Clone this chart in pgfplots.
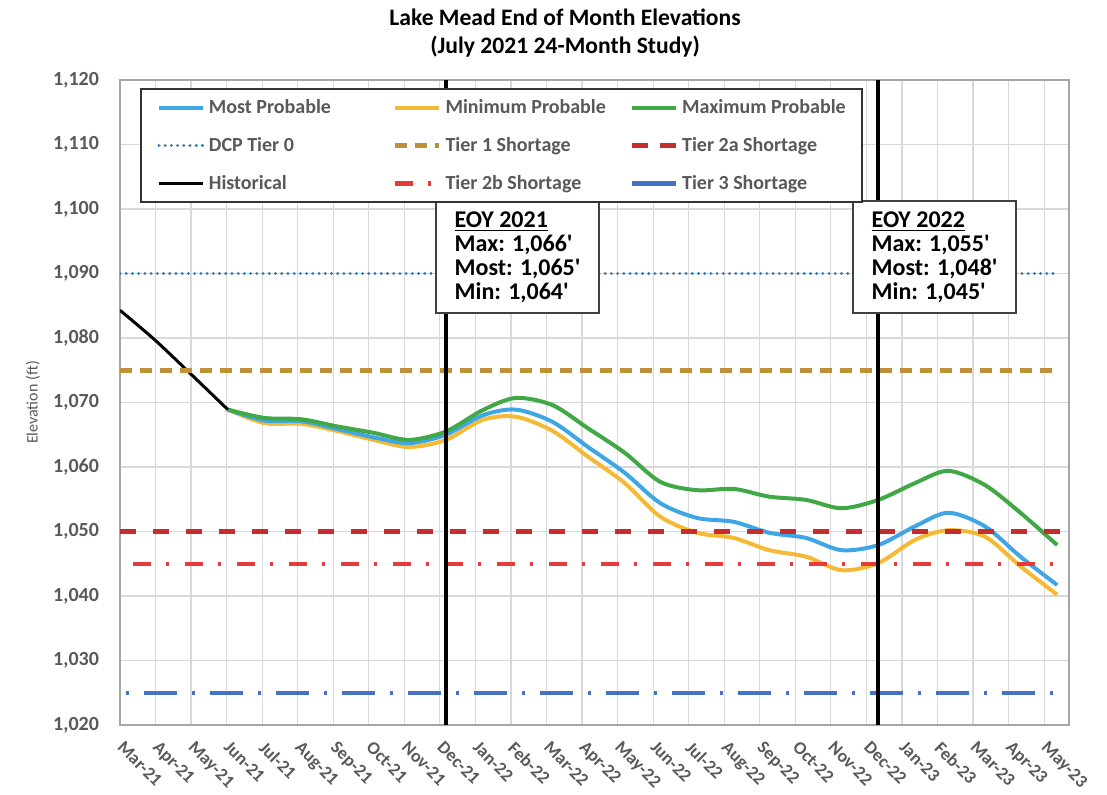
\documentclass[border=0pt]{standalone}
\usepackage{fontspec}
\setmainfont{Carlito}[Ligatures=TeXOff]
\usepackage{pgfplots}
\pgfplotsset{compat=1.18}

\definecolor{mostblue}{HTML}{3FA6E4}
\definecolor{minyellow}{HTML}{F5B935}
\definecolor{maxgreen}{HTML}{40A845}
\definecolor{tierzero}{HTML}{2E75B6}
\definecolor{tierone}{HTML}{BF9038}
\definecolor{tiertwoa}{HTML}{C62E2E}
\definecolor{tiertwob}{HTML}{E63B3B}
\definecolor{tierthree}{HTML}{4472C4}
\definecolor{labelgray}{HTML}{595959}
\definecolor{gridgray}{HTML}{D9D9D9}

% x = days after 31 Mar 2021 (end-of-month values); ticks every 30 days
\begin{document}
\begin{tikzpicture}
\useasboundingbox (-60pt,-35pt) rectangle (493.5pt,362.5pt);
\begin{axis}[
    scale only axis,
    width=474.5pt, height=322.5pt,
    clip mode=individual,
    xmin=0, xmax=801,
    ymin=1020, ymax=1120,
    xtick={0,30,...,780},
    xticklabels={Mar-21,Apr-21,May-21,Jun-21,Jul-21,Aug-21,Sep-21,Oct-21,Nov-21,Dec-21,
                 Jan-22,Feb-22,Mar-22,Apr-22,May-22,Jun-22,Jul-22,Aug-22,Sep-22,Oct-22,Nov-22,Dec-22,
                 Jan-23,Feb-23,Mar-23,Apr-23,May-23},
    ytick={1020,1030,...,1120},
    /pgf/number format/1000 sep={,},
    /pgf/number format/assume math mode=true,
    ticklabel style={text=labelgray},
    xticklabel style={font=\fontsize{9}{11}\selectfont\bfseries, rotate=-45, anchor=north west,
                      inner sep=1pt, xshift=6pt, yshift=-2.5pt},
    yticklabel style={font=\fontsize{10}{12}\selectfont\bfseries, xshift=-7pt},
    major tick length=0pt,
    grid=major,
    major grid style={draw=gridgray, line width=0.6pt},
    axis line style={draw=gray!70, line width=0.6pt},
    legend columns=3,
    legend cell align=left,
    legend style={
        at={(rel axis cs:0.021,0.9876)}, anchor=north west,
        draw=black!80, line width=1pt, fill=white,
        font=\fontsize{10}{12}\selectfont\bfseries, text=labelgray,
        inner xsep=8pt, inner ysep=3pt, row sep=6.5pt,
    },
    legend image code/.code={\draw[#1] (0pt,0pt) -- (22pt,0pt);},
]
% projections (Jun-21 .. May-23)
\addplot[minyellow, line width=2pt, smooth, forget plot] coordinates {
    (91,1068.9)(122,1066.8)(153,1066.7)(183,1065.6)(214,1064.2)(244,1063.1)(275,1064.2)
    (306,1067.3)(334,1067.8)(365,1065.6)(395,1061.6)(426,1057.5)(456,1052.3)(487,1049.8)
    (518,1049.0)(548,1047.1)(579,1046.1)(609,1044.0)(640,1045.1)(671,1048.7)(699,1050.2)
    (730,1049.2)(760,1044.6)(791,1040.2)};
\addplot[mostblue, line width=2pt, smooth, forget plot] coordinates {
    (91,1068.9)(122,1067.2)(153,1067.1)(183,1065.9)(214,1064.6)(244,1063.7)(275,1065.0)
    (306,1068.0)(334,1068.9)(365,1067.0)(395,1063.1)(426,1059.1)(456,1054.4)(487,1052.1)
    (518,1051.5)(548,1049.8)(579,1049.0)(609,1047.1)(640,1047.9)(671,1050.8)(699,1052.9)
    (730,1050.8)(760,1046.1)(791,1041.7)};
\addplot[maxgreen, line width=2pt, smooth, forget plot] coordinates {
    (91,1068.9)(122,1067.6)(153,1067.4)(183,1066.3)(214,1065.3)(244,1064.2)(275,1065.5)
    (306,1068.8)(334,1070.7)(365,1069.6)(395,1066.0)(426,1062.2)(456,1057.7)(487,1056.4)
    (518,1056.6)(548,1055.4)(579,1054.9)(609,1053.6)(640,1054.9)(671,1057.5)(699,1059.4)
    (730,1057.2)(760,1052.9)(791,1047.9)};
% historical
\addplot[black, line width=1.5pt, smooth, forget plot] coordinates {
    (0,1084.3)(30,1079.6)(61,1074.2)(91,1068.9)};
% reference levels
\addplot[tierzero, line width=1.6pt, line cap=round, dash pattern=on 0.01pt off 3.1pt, forget plot]
    coordinates {(0,1090)(791,1090)};
\addplot[tierone, line width=2.3pt, dash pattern=on 6pt off 4pt, forget plot]
    coordinates {(0,1075)(791,1075)};
\addplot[tiertwoa, line width=2.3pt, dash pattern=on 8pt off 8.5pt, forget plot]
    coordinates {(0,1050)(801,1050)};
\addplot[tiertwob, line width=2.1pt, dash pattern=on 9pt off 7.5pt on 1.5pt off 8pt, dash phase=19.5pt, forget plot]
    coordinates {(0,1045)(791,1045)};
\addplot[tierthree, line width=2.1pt, dash pattern=on 16.5pt off 7.5pt on 1.5pt off 7.5pt, dash phase=21pt, forget plot]
    coordinates {(0,1025)(791,1025)};
% end of year markers
\addplot[black, line width=2pt, forget plot] coordinates {(275,1020)(275,1120)};
\addplot[black, line width=2pt, forget plot] coordinates {(640,1020)(640,1120)};

% legend
\addlegendimage{mostblue, line width=2pt}
\addlegendentry{\makebox[90pt][l]{Most Probable}}
\addlegendimage{minyellow, line width=2pt}
\addlegendentry{\makebox[90pt][l]{Minimum Probable}}
\addlegendimage{maxgreen, line width=2pt}
\addlegendentry{\makebox[80pt][l]{Maximum Probable}}
\addlegendimage{tierzero, line width=1.6pt, line cap=round, dash pattern=on 0.01pt off 3.1pt}
\addlegendentry{DCP Tier 0}
\addlegendimage{tierone, line width=2.3pt, dash pattern=on 6pt off 4pt}
\addlegendentry{Tier 1 Shortage}
\addlegendimage{tiertwoa, line width=2.3pt, dash pattern=on 8pt off 6pt}
\addlegendentry{Tier 2a Shortage}
\addlegendimage{black, line width=1.5pt}
\addlegendentry{Historical}
\addlegendimage{tiertwob, line width=2.1pt, dash pattern=on 9pt off 7.5pt on 1.5pt off 8pt}
\addlegendentry{Tier 2b Shortage}
\addlegendimage{tierthree, line width=2.1pt}
\addlegendentry{Tier 3 Shortage}

% annotation boxes
\node[draw=black!75, line width=0.9pt, fill=white, anchor=north west, align=left,
      inner xsep=5pt, inner ysep=4pt, minimum width=81.5pt, minimum height=56pt,
      font=\fontsize{12}{12}\selectfont\bfseries]
    at (axis cs:266,1101.4) {\underline{EOY 2021}\\Max: 1,066'\\Most: 1,065'\\Min: 1,064'};
\node[draw=black!75, line width=0.9pt, fill=white, anchor=north west, align=left,
      inner xsep=5pt, inner ysep=4pt, minimum width=81.5pt, minimum height=56pt,
      font=\fontsize{12}{12}\selectfont\bfseries]
    at (axis cs:618,1101.4) {\underline{EOY 2022}\\Max: 1,055'\\Most: 1,048'\\Min: 1,045'};

% title and axis label
\node[anchor=south, align=center, font=\fontsize{11.8}{14}\selectfont\bfseries]
    at (rel axis cs:0.469,1) [yshift=8pt] {Lake Mead End of Month Elevations\\(July 2021 24-Month Study)};
\node[rotate=90, font=\fontsize{8}{9}\selectfont, text=labelgray]
    at (rel axis cs:-0.0917,0.5) {Elevation (ft)};
\end{axis}
\end{tikzpicture}
\end{document}
